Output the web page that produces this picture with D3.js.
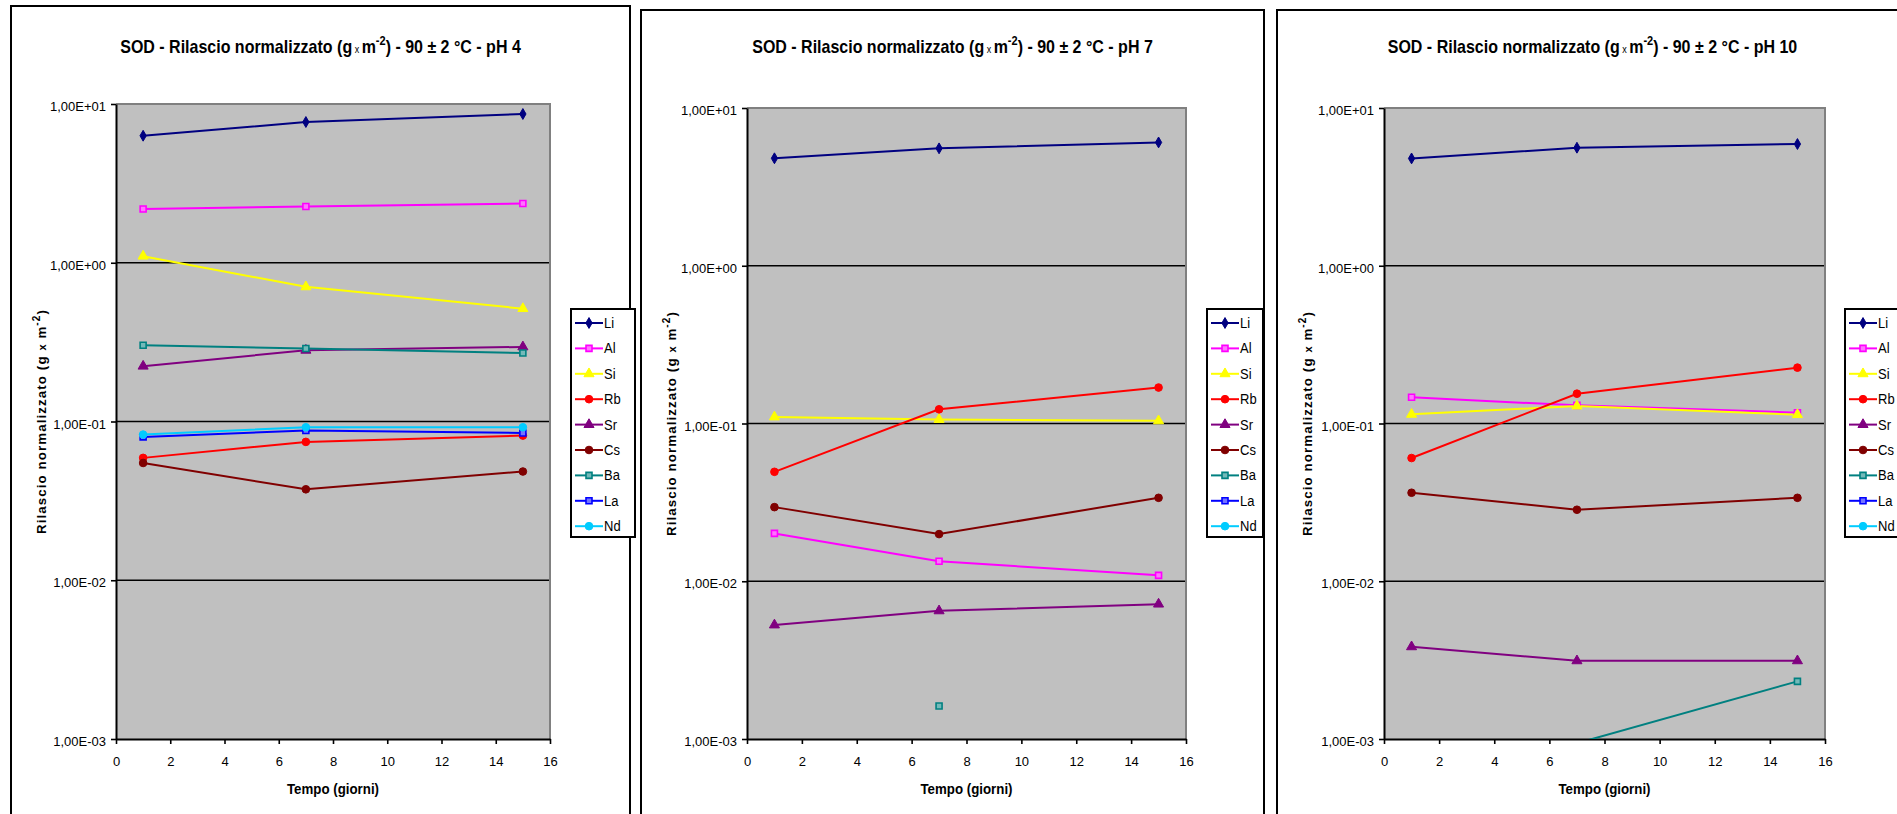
<!DOCTYPE html>
<html>
<head>
<meta charset="utf-8">
<script src="https://cdn.jsdelivr.net/npm/d3@7"></script>
<style>
  body { margin: 0; background: #fff; }
  svg { display: block; font-family: "Liberation Sans", Arial, sans-serif; }
</style>
</head>
<body>
<svg id="chart" width="1897" height="814"></svg>
<script>
// sampling days and elements
const days = [1, 7, 15];
const elements = ["Li", "Al", "Si", "Rb", "Sr", "Cs", "Ba", "La", "Nd"];

// normalized release (g x m-2), one row per element, one column per day
const ph4 = [
  [6.31, 7.70, 8.65],
  [2.18, 2.26, 2.36],
  [1.10, 0.705, 0.514],
  [0.059, 0.0744, 0.0815],
  [0.223, 0.281, 0.295],
  [0.0548, 0.0374, 0.0484],
  [0.302, 0.288, 0.270],
  [0.080, 0.0877, 0.0847],
  [0.0827, 0.092, 0.092]
];
const ph7 = [
  [4.80, 5.55, 6.05],
  [0.0201, 0.0134, 0.0109],
  [0.110, 0.106, 0.104],
  [0.0494, 0.123, 0.169],
  [0.00528, 0.00649, 0.00716],
  [0.0295, 0.0199, 0.0338],
  [null, 0.00162, null],
  [null, null, null],
  [null, null, null]
];
const ph10 = [
  [4.79, 5.60, 5.91],
  [0.1466, 0.1303, 0.1171],
  [0.1143, 0.129, 0.1138],
  [0.0604, 0.1545, 0.226],
  [0.00384, 0.00313, 0.00313],
  [0.0364, 0.0284, 0.0338],
  [null, 0.00094, 0.00232],
  [null, null, null],
  [null, null, null]
];
const phLabels = ["pH 4", "pH 7", "pH 10"];
const yTickValues = [10, 1, 0.1, 0.01, 0.001];
const xTickValues = [0, 2, 4, 6, 8, 10, 12, 14, 16];

// series styling
const colors = ["#000080", "#FF00FF", "#FFFF00", "#FF0000", "#800080", "#800000", "#008080", "#0000FF", "#00CCFF"];
const shapes = [d3.symbolDiamond, d3.symbolSquare, d3.symbolTriangle, d3.symbolCircle, d3.symbolTriangle,
                d3.symbolCircle, d3.symbolSquare, d3.symbolSquare, d3.symbolCircle];
const shapeSize = [34, 36, 44, 46, 44, 46, 36, 36, 46];

// panel layout
const frameX = [11, 641, 1277], frameY = [6, 10, 10], frameW = [619, 623, 623];
const plotL = [116, 747, 1384], plotR = [550, 1186, 1825];
const plotT = [104, 108, 108], plotB = [739, 739, 739];
const legendX = [571, 1207, 1845], legendW = [64, 56, 64];

function sci(v) {
  const e = Math.round(Math.log10(v));
  const m = v / Math.pow(10, e);
  return m.toFixed(2).replace(".", ",") + "E" + (e < 0 ? "-" : "+") + String(Math.abs(e)).padStart(2, "0");
}

function marker(sel, i) {
  const isSquare = shapes[i] === d3.symbolSquare;
  sel.append("path")
    .attr("d", d3.symbol().type(shapes[i]).size(shapeSize[i]))
    .attr("fill", isSquare ? d3.interpolateRgb(colors[i], "#fff")(0.45) : colors[i])
    .attr("stroke", colors[i])
    .attr("stroke-width", isSquare ? 1.6 : 1);
}

const svg = d3.select("#chart");

[ph4, ph7, ph10].forEach(function(values, p) {
  const g = svg.append("g");

  g.append("rect")
    .attr("x", frameX[p]).attr("y", frameY[p])
    .attr("width", frameW[p]).attr("height", 900)
    .attr("fill", "#fff").attr("stroke", "#000").attr("stroke-width", 2);

  const x = d3.scaleLinear().domain([0, 16]).range([plotL[p], plotR[p]]);
  const y = d3.scaleLog().domain([0.001, 10]).range([plotB[p], plotT[p]]);

  g.append("rect")
    .attr("x", plotL[p]).attr("y", plotT[p])
    .attr("width", plotR[p] - plotL[p]).attr("height", plotB[p] - plotT[p])
    .attr("fill", "#C0C0C0");

  // decade gridlines
  g.append("g").selectAll("line")
    .data(yTickValues.slice(1, -1))
    .join("line")
    .attr("x1", plotL[p]).attr("x2", plotR[p])
    .attr("y1", d => y(d)).attr("y2", d => y(d))
    .attr("stroke", "#000").attr("stroke-width", 1.6);

  // grey plot frame on top and right
  g.append("path")
    .attr("d", `M${plotL[p]},${plotT[p]}H${plotR[p]}V${plotB[p]}`)
    .attr("fill", "none").attr("stroke", "#808080").attr("stroke-width", 2);

  const yAxis = g.append("g")
    .attr("transform", `translate(${plotL[p]},0)`)
    .call(d3.axisLeft(y).tickValues(yTickValues).tickFormat(sci).tickSize(5).tickSizeOuter(0).tickPadding(5));
  const xAxis = g.append("g")
    .attr("transform", `translate(0,${plotB[p]})`)
    .call(d3.axisBottom(x).tickValues(xTickValues).tickSize(5).tickSizeOuter(0).tickPadding(13));
  [yAxis, xAxis].forEach(function(a) {
    a.select(".domain").attr("stroke", "#000").attr("stroke-width", 2);
    a.selectAll(".tick line").attr("stroke", "#000").attr("stroke-width", 1.6);
    a.selectAll("text").attr("fill", "#000").attr("font-size", 13)
      .attr("font-family", "'Liberation Sans', Arial, sans-serif");
  });
  yAxis.selectAll("text").attr("dy", "0.5em");

  // series, clipped to the plot area
  const clipId = "clip" + p;
  g.append("clipPath").attr("id", clipId)
    .append("rect")
    .attr("x", plotL[p]).attr("y", plotT[p] - 8)
    .attr("width", plotR[p] - plotL[p] + 8).attr("height", plotB[p] - plotT[p] + 8);
  const plot = g.append("g").attr("clip-path", `url(#${clipId})`);

  const line = d3.line()
    .defined(d => d[1] != null)
    .x(d => x(d[0]))
    .y(d => y(d[1]));

  values.forEach(function(row, i) {
    const pts = days.map((d, k) => [d, row[k]]);
    plot.append("path")
      .attr("d", line(pts))
      .attr("fill", "none")
      .attr("stroke", colors[i])
      .attr("stroke-width", 2);
  });
  values.forEach(function(row, i) {
    const pts = days.map((d, k) => [d, row[k]]).filter(d => d[1] != null && d[1] >= 0.001);
    plot.selectAll(null)
      .data(pts)
      .join("g")
      .attr("transform", d => `translate(${x(d[0])},${y(d[1])})`)
      .each(function() { marker(d3.select(this), i); });
  });

  // titles
  const title = g.append("text")
    .attr("transform", `translate(${frameX[p] + frameW[p] / 2 + (p === 2 ? 4 : 0)},53) scale(1,1.15)`)
    .attr("text-anchor", "middle")
    .attr("font-size", 16).attr("font-weight", "bold");
  title.append("tspan").text("SOD - Rilascio normalizzato (g");
  title.append("tspan").attr("font-size", 9).attr("font-weight", "normal").text(" x ");
  title.append("tspan").text("m");
  title.append("tspan").attr("font-size", 11).attr("dy", -7).text("-2");
  title.append("tspan").attr("dy", 7).text(") - 90 ± 2 °C - " + phLabels[p]);

  const yTitle = g.append("text")
    .attr("transform", `translate(${frameX[p] + 35},${(plotT[p] + plotB[p]) / 2}) rotate(-90)`)
    .attr("text-anchor", "middle")
    .attr("font-size", 13.3).attr("font-weight", "bold")
    .attr("letter-spacing", 1.1);
  yTitle.append("tspan").text("Rilascio normalizzato (g  ");
  yTitle.append("tspan").attr("font-size", 11).text("x");
  yTitle.append("tspan").text(" m");
  yTitle.append("tspan").attr("font-size", 10).attr("dy", -6).text("-2");
  yTitle.append("tspan").attr("dy", 6).text(")");

  g.append("text")
    .attr("transform", `translate(${(plotL[p] + plotR[p]) / 2},794) scale(1,1.15)`)
    .attr("text-anchor", "middle")
    .attr("font-size", 13.3).attr("font-weight", "bold")
    .text("Tempo (giorni)");

  // legend
  const lg = g.append("g").attr("transform", `translate(${legendX[p]},309)`);
  lg.append("rect")
    .attr("width", legendW[p]).attr("height", 228)
    .attr("fill", "#fff").attr("stroke", "#000").attr("stroke-width", 2);
  elements.forEach(function(name, i) {
    const row = lg.append("g").attr("transform", `translate(0,${14 + i * 25.4})`);
    row.append("line")
      .attr("x1", 4).attr("x2", 32)
      .attr("stroke", colors[i]).attr("stroke-width", 2);
    marker(row.append("g").attr("transform", "translate(18,0)"), i);
    row.append("text")
      .attr("transform", "translate(33,5) scale(1,1.12)")
      .attr("font-size", 13)
      .text(name);
  });
});
</script>
</body>
</html>
